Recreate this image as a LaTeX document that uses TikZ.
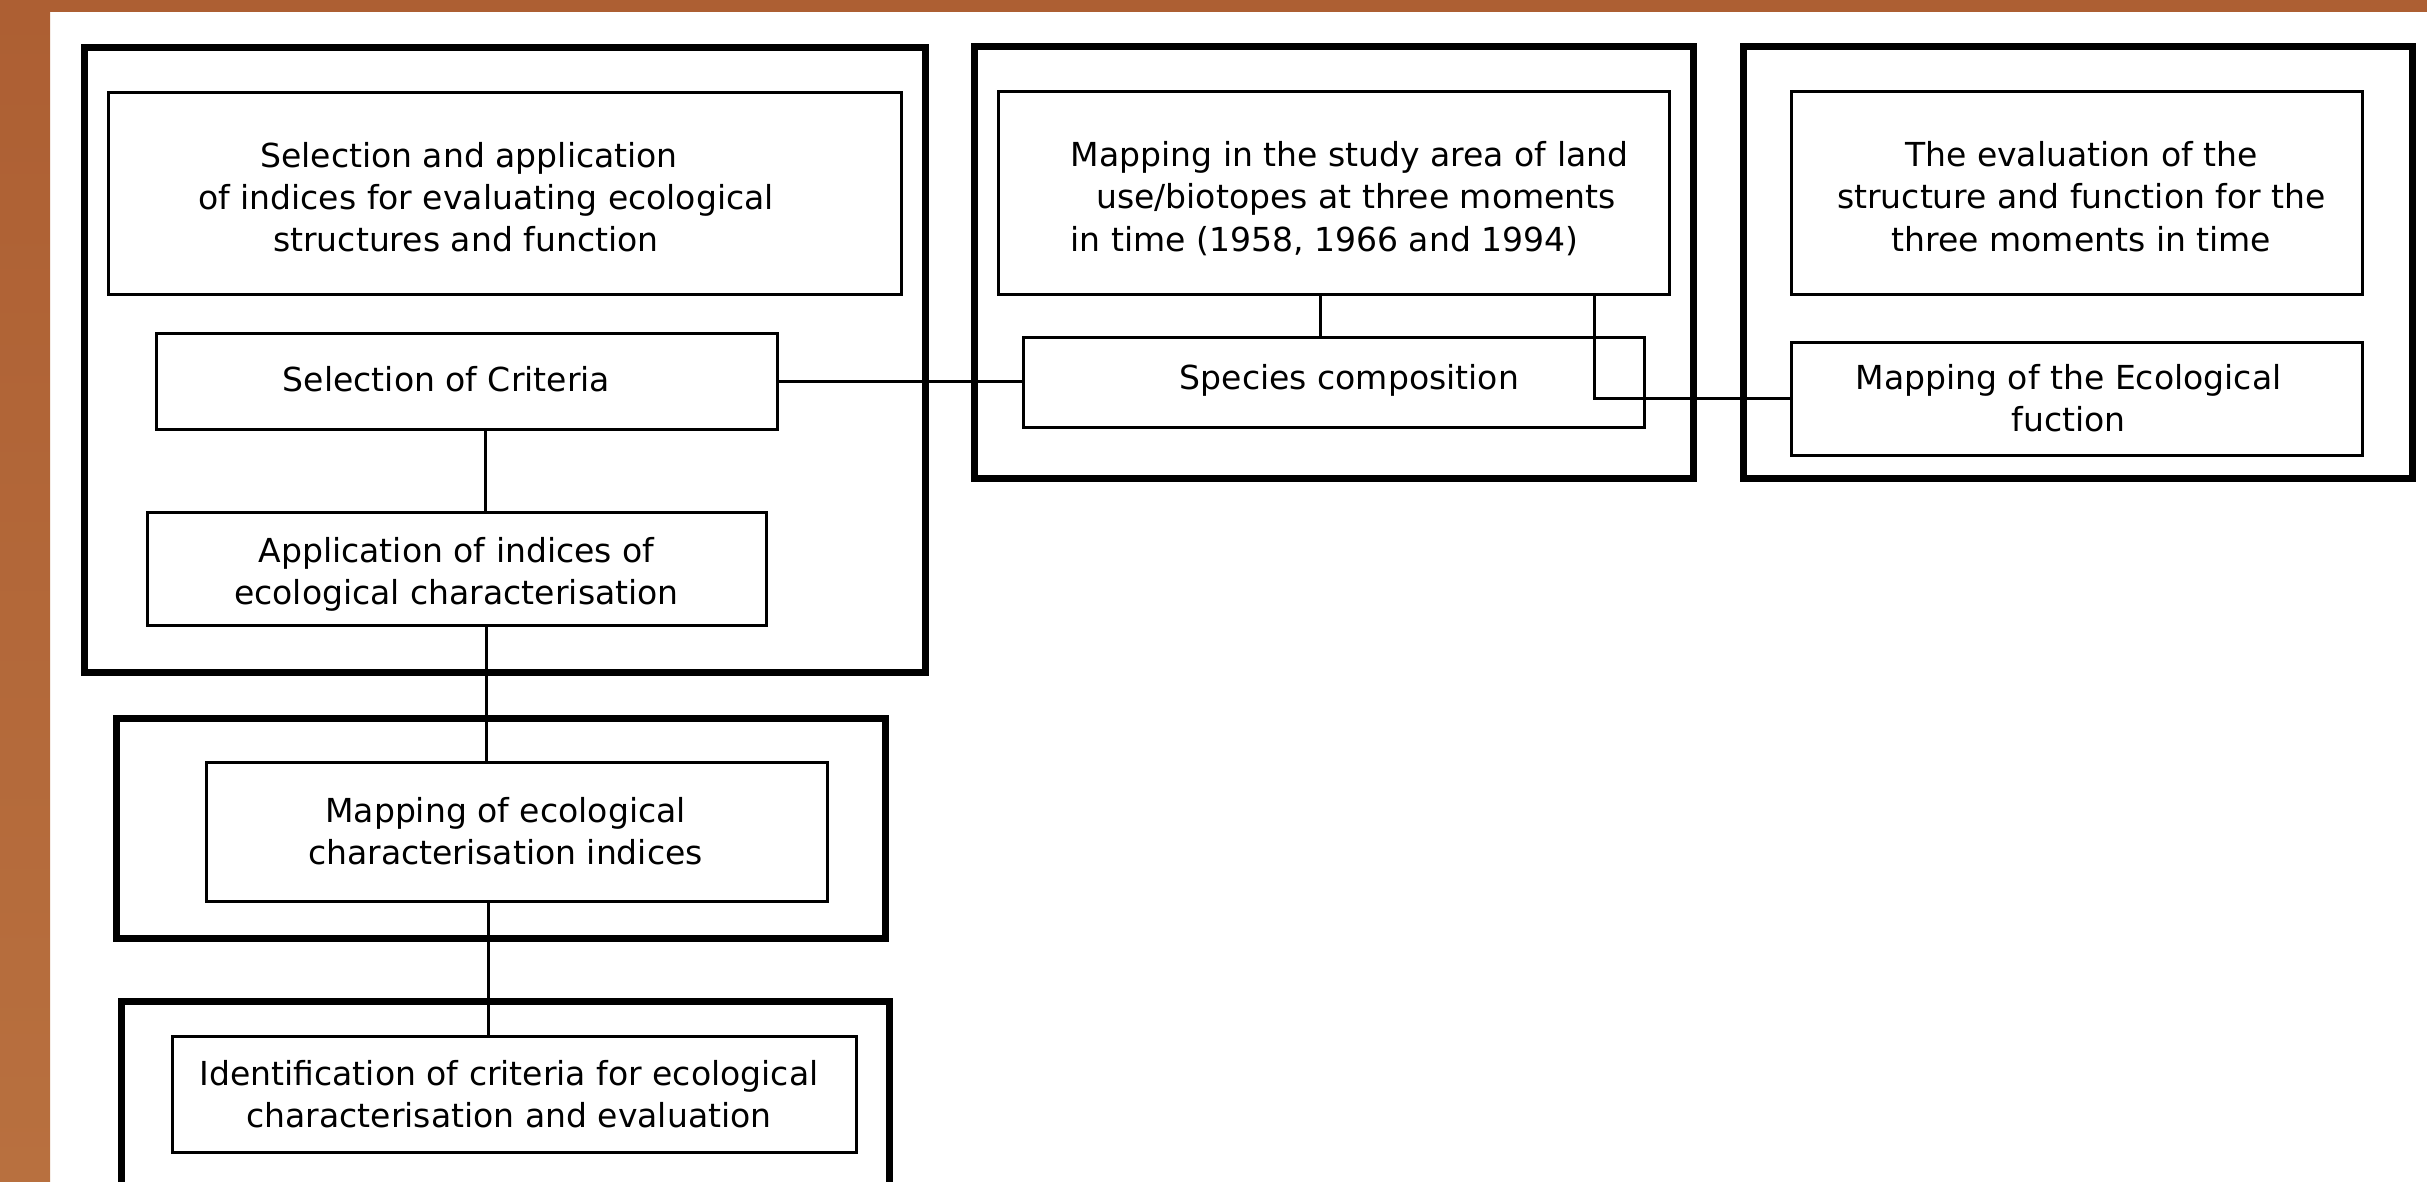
\documentclass[tikz,border=0pt]{standalone}
\usepackage{fontspec}
\setmainfont{DejaVu Sans}
\definecolor{rust}{HTML}{AD5F33}
\definecolor{rustlight}{HTML}{B8703F}
\begin{document}
\begin{tikzpicture}[x=0.1mm,y=-0.1mm,
            frame/.style={draw,line width=0.7mm,inner sep=0pt},
            box/.style={draw,line width=0.3mm,inner sep=0pt},
            txt/.style={align=center,inner sep=0pt,
              font=\fontsize{9.4}{12}\selectfont},
            link/.style={line width=0.3mm}]
            \clip(0,0)rectangle(2427,1181);
            \useasboundingbox(0,0)rectangle(2427,1181);
            % border of the slide
            \fill[rust](0,0)rectangle(2427,12);
            \shade[top color=rust,bottom color=rustlight](0,0)rectangle(50,1181);
            % outer frames
            \node[frame,minimum width=84.1mm,minimum height=62.5mm](fleft)at(504.5,359.5){};
            \node[frame,minimum width=76.9mm,minimum height=22mm](fmid)at(500.5,828){};
            \node[frame,minimum width=76.8mm,minimum height=25.9mm](fbot)at(505,1130.5){};
            \node[frame,minimum width=71.9mm,minimum height=43.2mm](fstudy)at(1333.5,262){};
            \node[frame,minimum width=66.9mm,minimum height=43.2mm](feval)at(2077.5,262){};
            % boxes
            \node[box,minimum width=79.3mm,minimum height=20.2mm](indices)at(504.5,193){};
            \node[txt,align=left](indices-t)at([xshift=-1.85mm,yshift=-0.4mm]indices){%
              \hspace*{6.2mm}Selection and application\\
              of indices for evaluating ecological\\
              \hspace*{7.5mm}structures and function};
            \node[box,minimum width=62.1mm,minimum height=9.6mm](crit)at(466.5,381){};
            \node[txt](crit-t)at([xshift=-2mm,yshift=0.2mm]crit){Selection of Criteria};
            \node[box,minimum width=61.9mm,minimum height=11.3mm](appl)at(456.5,568.5){};
            \node[txt](appl-t)at([yshift=-0.6mm]appl){Application of indices of\\ecological characterisation};
            \node[box,minimum width=62.1mm,minimum height=13.9mm](mapind)at(516.5,831.5){};
            \node[txt](mapind-t)at([xshift=-1.1mm]mapind){Mapping of ecological\\
              characterisation indices};
            \node[box,minimum width=68.4mm,minimum height=11.6mm](ident)at(514,1094){};
            \node[txt](ident-t)at([xshift=-0.5mm]ident){Identification of criteria for ecological\\
              characterisation and evaluation};
            \node[box,minimum width=67.1mm,minimum height=20.3mm](landuse)at(1333.5,192.5){};
            \node[txt,align=left](landuse-t)at([xshift=1.6mm,yshift=-0.6mm]landuse){%
              Mapping in the study area of land\\
              \hspace*{2.55mm}use/biotopes at three moments\\
              in time (1958, 1966 and 1994)};
            \node[box,minimum width=62.1mm,minimum height=9mm](species)at(1333.5,382){};
            \node[txt](species-t)at([xshift=1.6mm,yshift=0.2mm]species){Species composition};
            \node[box,minimum width=57.1mm,minimum height=20.3mm](eval)at(2076.5,192.5){};
            \node[txt](eval-t)at([xshift=0.5mm,yshift=-0.4mm]eval){The evaluation of the\\
              structure and function for the\\three moments in time};
            \node[box,minimum width=57.1mm,minimum height=11.3mm](ecofun)at(2076.5,398.5){};
            \node[txt](ecofun-t)at([xshift=-0.8mm]ecofun){Mapping of the Ecological\\fuction};
            % connectors
            \draw[link]([xshift=1.9mm]crit.south)--([xshift=1.9mm]crit.south|-appl.north);
            \draw[link]([xshift=3mm]appl.south)--([xshift=3mm]appl.south|-mapind.north);
            \draw[link]([xshift=-2.8mm]mapind.south)--([xshift=-2.8mm]mapind.south|-ident.north);
            \draw[link](crit.east)--(crit.east-|species.west);
            \draw[link]([xshift=-1.35mm]landuse.south)--([xshift=-1.35mm]landuse.south|-species.north);
            \draw[link]([xshift=26.05mm]landuse.south)|-(ecofun.west);
        \end{tikzpicture}
\end{document}
